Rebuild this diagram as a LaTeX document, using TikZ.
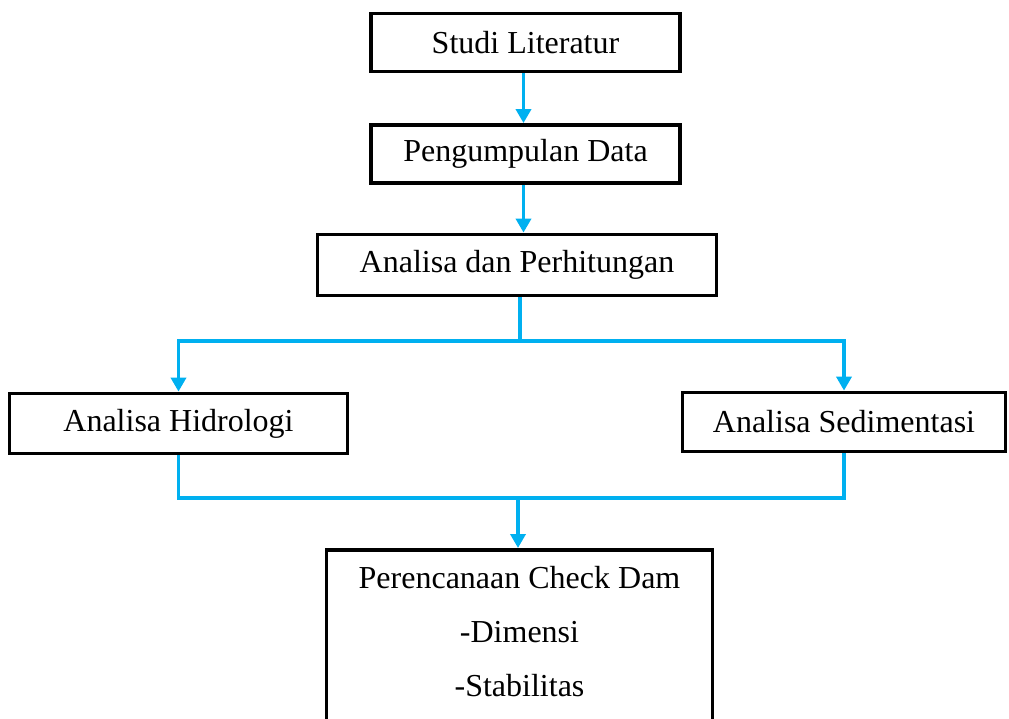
\documentclass[tikz,border=0pt]{standalone}
\usepackage{fontspec}
\setmainfont{Liberation Serif}
\usetikzlibrary{arrows.meta}
\definecolor{flowcyan}{HTML}{00B0F0}
\tikzset{
  stepbox/.style={draw=black, line width=3.8pt, fill=white, inner sep=0pt,
    font=\fontsize{32}{38}\selectfont},
  flowline/.style={draw=flowcyan, line width=3.5pt},
  flowarrow/.style={flowline, -{Triangle[width=15pt,length=14pt]}},
}
\begin{document}
\begin{tikzpicture}[x=1pt,y=-1pt]
\useasboundingbox (0,0) rectangle (1009,718);
\node[stepbox, minimum width=309pt, minimum height=58pt] (studi) at (525.5,42.5) {Studi Literatur};
\node[stepbox, minimum width=309pt, minimum height=58pt] (peng) at (525.5,154) {Pengumpulan Data};
\node[stepbox, minimum width=399pt, minimum height=61pt] (anal) at (517,265) {Analisa dan Perhitungan};
\node[stepbox, minimum width=338pt, minimum height=60pt] (hidro) at (178.5,423.5) {Analisa Hidrologi};
\node[stepbox, minimum width=323pt, minimum height=59pt] (sedi) at (844,422) {Analisa Sedimentasi};
\node[stepbox, minimum width=386pt, minimum height=190pt, anchor=north] (plan) at (519.5,548) {};
\node[font=\fontsize{32}{38}\selectfont, inner sep=0pt] (plan1) at (519.5,578) {Perencanaan Check Dam};
\node[font=\fontsize{32}{38}\selectfont, inner sep=0pt] (plan2) at (519.5,632) {-Dimensi};
\node[font=\fontsize{32}{38}\selectfont, inner sep=0pt] (plan3) at (519.5,686) {-Stabilitas};
\coordinate (split) at (520,341);
\coordinate (merge) at (518,498);
\draw[flowarrow] ([xshift=-2pt]studi.south) -- ([xshift=-2pt]studi.south |- peng.north);
\draw[flowarrow] ([xshift=-2pt]peng.south) -- ([xshift=-2pt]peng.south |- anal.north);
\draw[flowline] (anal.south -| split) -- (split);
\draw[flowarrow] (split) -| (hidro.north);
\draw[flowarrow] (split) -| (sedi.north);
\draw[flowline] (hidro.south) |- (merge);
\draw[flowline] (sedi.south) |- (merge);
\draw[flowarrow] (merge) -- (merge |- plan.north);
\end{tikzpicture}
\end{document}
